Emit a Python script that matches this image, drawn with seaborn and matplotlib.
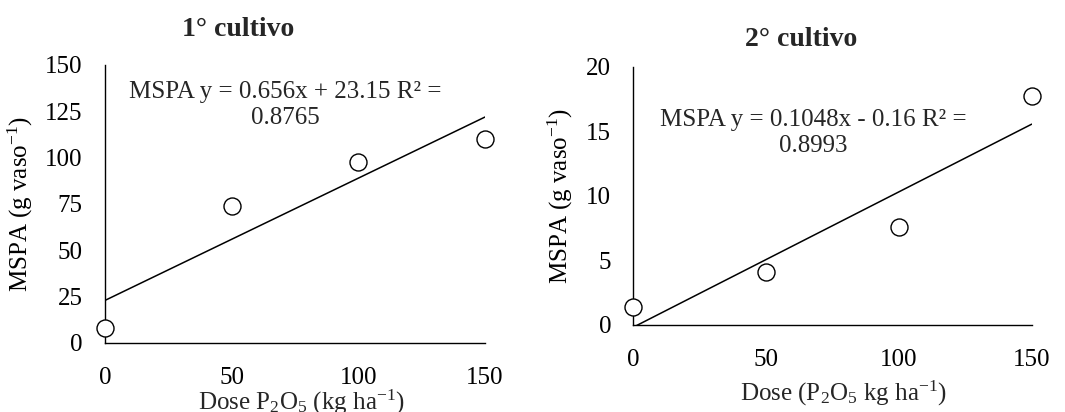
import matplotlib
matplotlib.use("Agg")
import matplotlib.pyplot as plt
import seaborn as sns
import pandas as pd

dose = [0, 50, 100, 150]
mspa_1 = [8, 74, 97.7, 110]
mspa_2 = [1.4, 4.08, 7.58, 17.7]
eq_1 = "MSPA y = 0.656x + 23.15 R² =\n0.8765"
eq_2 = "MSPA y = 0.1048x - 0.16 R² =\n0.8993"
title_1 = "1° cultivo"
title_2 = "2° cultivo"
xticks = [0, 50, 100, 150]
yticks_1 = [0, 25, 50, 75, 100, 125, 150]
yticks_2 = [0, 5, 10, 15, 20]

sns.set_theme(style="white")
plt.rcParams['font.family'] = ['Liberation Serif', 'DejaVu Serif']
plt.rcParams['mathtext.fontset'] = 'custom'
plt.rcParams['mathtext.rm'] = 'Liberation Serif'
plt.rcParams['mathtext.it'] = 'Liberation Serif:italic'
plt.rcParams['mathtext.bf'] = 'Liberation Serif:bold'

fig = plt.figure(figsize=(10.65, 4.12), dpi=100)
ax1 = fig.add_axes([0.0986, 0.1675, 0.3568, 0.675])
ax2 = fig.add_axes([0.5947, 0.2112, 0.3741, 0.627])

FS = 18

def draw(ax, y, yticks, ylim, eq, eq_xy, title, title_xy, xlabel, xlabel_y, xlabel_va):
    df = pd.DataFrame({"dose": dose, "mspa": y})
    sns.regplot(data=df, x="dose", y="mspa", ax=ax, scatter=False, ci=None,
                color="black", line_kws={"linewidth": 1.1})
    sns.scatterplot(data=df, x="dose", y="mspa", ax=ax, marker="o", s=150,
                    facecolor="white", edgecolor="black", linewidth=1.0,
                    clip_on=False, zorder=5)
    ax.set_xlim(0, 150)
    ax.set_ylim(*ylim)
    ax.set_xticks(xticks)
    ax.set_yticks(yticks)
    ax.tick_params(axis="both", length=0, labelsize=FS, colors="black")
    ax.tick_params(axis="x", pad=17)
    ax.tick_params(axis="y", pad=16)
    for s in ["top", "right"]:
        ax.spines[s].set_visible(False)
    for s in ["left", "bottom"]:
        ax.spines[s].set_color("black")
        ax.spines[s].set_linewidth(1.0)
    ax.set_ylabel("MSPA (g vaso$^{-1}$)", fontsize=FS, color="black")
    ax.set_xlabel("")
    fig.text(xlabel[1], xlabel_y, xlabel[0], fontsize=FS, ha="center", va=xlabel_va)
    fig.text(eq_xy[0], eq_xy[1], eq, fontsize=FS, ha="center", va="center",
             linespacing=1.2)
    fig.text(title_xy[0], title_xy[1], title, fontsize=20, fontweight="bold",
             ha="center", va="center")

draw(ax1, mspa_1, yticks_1, (0, 150), eq_1, (285 / 1065, 1 - 105 / 412),
     title_1, (238 / 1065, 1 - 30 / 412),
     ("Dose P$_2$O$_5$ (kg ha$^{-1}$)", 301 / 1065), 2.5 / 412, "baseline")
draw(ax2, mspa_2, yticks_2, (0, 20), eq_2, (813 / 1065, 1 - 133 / 412),
     title_2, (801 / 1065, 1 - 40 / 412),
     ("Dose (P$_2$O$_5$ kg ha$^{-1}$)", 843 / 1065), 1 - 393 / 412, "center")

ax1.yaxis.set_label_coords(-0.184, 0.5)
ax2.yaxis.set_label_coords(-0.146, 0.5)

fig.savefig("out.png", dpi=100, facecolor="white")
